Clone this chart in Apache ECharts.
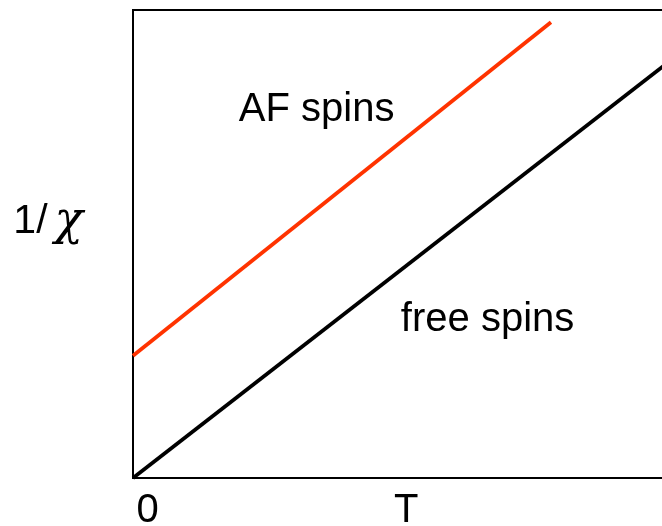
<!DOCTYPE html>
<html>
<head>
<meta charset="utf-8">
<script src="https://cdn.jsdelivr.net/npm/echarts@6/dist/echarts.min.js"></script>
<style>
  html, body { margin: 0; padding: 0; background: #fff; }
  #chart { width: 662px; height: 526px; }
</style>
</head>
<body>
<div id="chart"></div>
<script>
// Curie-law sketch: inverse susceptibility versus temperature
const freeSpins = [[0, 0], [10, 8.96]];
const afSpins = [[0, 2.61], [7.74, 9.74]];

// Tick labels along the temperature axis
const tickValues = [0.27, 5.06];
const tickLabels = ['0', 'T'];

// Line annotations (anchored in data units)
const notes = [
  { text: 'AF spins', at: [1.96, 7.86] },
  { text: 'free spins', at: [4.96, 3.38] }
];

const FONT = 'Liberation Sans, Arial, sans-serif';

const chart = echarts.init(document.getElementById('chart'), null, { renderer: 'canvas' });

chart.setOption({
  animation: false,
  backgroundColor: '#fff',
  grid: {
    left: 133, top: 10, right: -11, bottom: 48,
    outerBoundsMode: 'none',
    containLabel: false,
    show: true, borderColor: '#000', borderWidth: 2, backgroundColor: 'transparent'
  },
  xAxis: {
    type: 'value', min: 0, max: 10,
    axisLine: { show: false },
    axisTick: { show: false },
    splitLine: { show: false },
    axisLabel: {
      customValues: tickValues,
      formatter: function (v) {
        const i = tickValues.indexOf(v);
        return i >= 0 ? tickLabels[i] : '';
      },
      color: '#000', fontFamily: FONT, fontSize: 40, margin: 13
    }
  },
  yAxis: {
    type: 'value', min: 0, max: 10,
    axisLine: { show: false },
    axisTick: { show: false },
    splitLine: { show: false },
    axisLabel: { show: false },
    name: '{a|1/}{b|χ}',
    nameLocation: 'middle',
    nameRotate: 0,
    nameGap: 50,
    nameTextStyle: {
      align: 'right',
      padding: [0, 0, 44, 0],
      rich: {
        a: { fontFamily: FONT, fontSize: 41, color: '#000' },
        b: { fontFamily: 'DejaVu Serif, serif', fontStyle: 'italic', fontSize: 47, color: '#000', padding: [0, 0, 0, 7] }
      }
    }
  },
  series: [
    {
      type: 'line', data: freeSpins, symbol: 'none', clip: true,
      lineStyle: { color: '#000', width: 3.8 }
    },
    {
      type: 'line', data: afSpins, symbol: 'none', clip: true,
      lineStyle: { color: '#ff3300', width: 3.8 }
    },
    {
      type: 'scatter', symbolSize: 0, silent: true,
      itemStyle: { opacity: 1 },
      data: notes.map(n => ({ value: n.at, name: n.text })),
      label: {
        show: true, position: 'right', distance: 0,
        formatter: p => p.name,
        color: '#000', fontFamily: FONT, fontSize: 40
      }
    }
  ]
});
</script>
</body>
</html>
